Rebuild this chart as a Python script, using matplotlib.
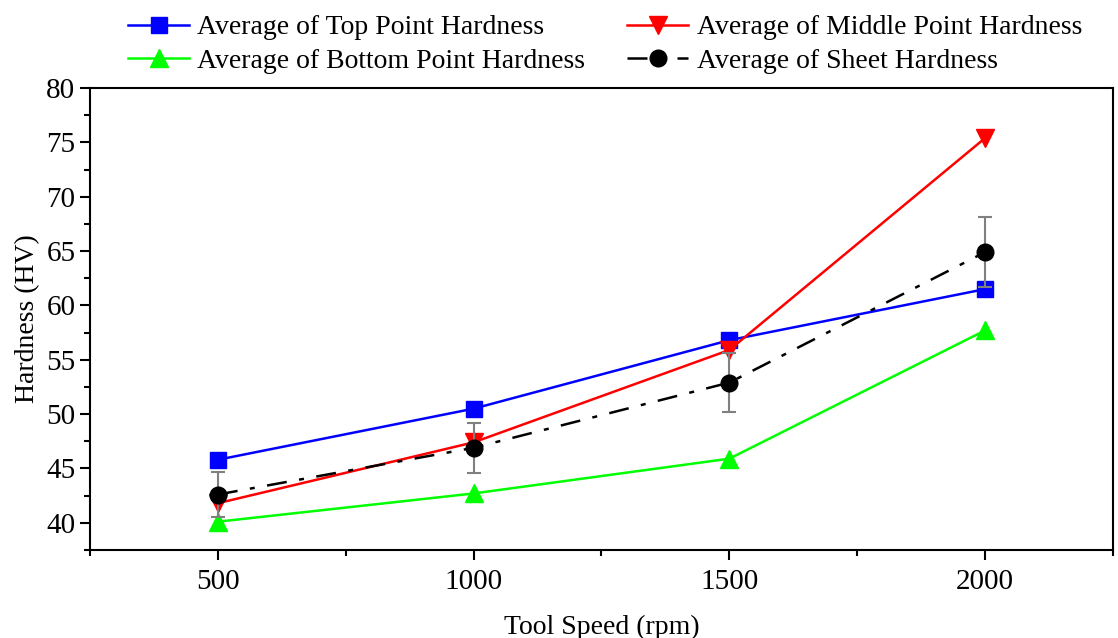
import matplotlib
matplotlib.use("Agg")
import matplotlib.pyplot as plt
from matplotlib.ticker import MultipleLocator
from matplotlib.lines import Line2D

plt.rcParams['font.family'] = ['Liberation Serif', 'DejaVu Serif']

speeds = [500, 1000, 1500, 2000]
top_hardness = [45.8, 50.5, 56.8, 61.5]
middle_hardness = [41.8, 47.4, 55.9, 75.4]
bottom_hardness = [40.1, 42.7, 45.9, 57.7]
sheet_hardness = [42.6, 46.9, 52.9, 64.9]
sheet_err = [2.1, 2.3, 2.7, 3.2]

fig = plt.figure(figsize=(11.18, 6.38), dpi=100)
ax = fig.add_axes([0.0805, 0.138, 0.915, 0.724])

sheet_ls = (0, (8, 5, 2, 5))
h_top, = ax.plot(speeds, top_hardness, color='#0000ff', lw=1.8, marker='s', ms=11,
                 label='Average of Top Point Hardness', zorder=3)
h_mid, = ax.plot(speeds, middle_hardness, color='#ff0000', lw=1.8, marker='v', ms=13,
                 label='Average of Middle Point Hardness', zorder=3)
h_bot, = ax.plot(speeds, bottom_hardness, color='#00ff00', lw=1.8, marker='^', ms=13,
                 label='Average of Bottom Point Hardness', zorder=3)
ax.errorbar(speeds, sheet_hardness, yerr=sheet_err, color='black', ecolor='#808080',
            elinewidth=1.5, capsize=5, capthick=1.5, lw=1.8, ls=sheet_ls,
            marker='o', ms=12, zorder=4)
h_sheet = Line2D([], [], color='black', lw=1.8, ls=sheet_ls, marker='o', ms=12,
                 label='Average of Sheet Hardness')

ax.set_xlim(250, 2250)
ax.set_ylim(37.5, 80)
ax.xaxis.set_major_locator(MultipleLocator(500))
ax.xaxis.set_minor_locator(MultipleLocator(250))
ax.yaxis.set_major_locator(MultipleLocator(5))
ax.yaxis.set_minor_locator(MultipleLocator(2.5))
ax.tick_params(which='both', direction='out', top=False, right=False, labelsize=21, width=1.5)
ax.tick_params(which='major', length=7)
ax.tick_params(which='minor', length=4)
ax.tick_params(axis='x', which='major', pad=7)
for s in ax.spines.values():
    s.set_linewidth(1.5)

ax.set_xlabel('Tool Speed (rpm)', fontsize=20, labelpad=14)
ax.set_ylabel('Hardness (HV)', fontsize=20, labelpad=4)

fig.legend([h_top, h_bot, h_mid, h_sheet],
           [h.get_label() for h in [h_top, h_bot, h_mid, h_sheet]], ncol=2,
           loc='upper left', bbox_to_anchor=(128 / 1118, 1 - 15 / 638), frameon=False,
           borderpad=0, borderaxespad=0,
           fontsize=20, handlelength=2.2, columnspacing=1.5, labelspacing=0.3,
           handletextpad=0.3)

fig.savefig('out.png', dpi=100)
